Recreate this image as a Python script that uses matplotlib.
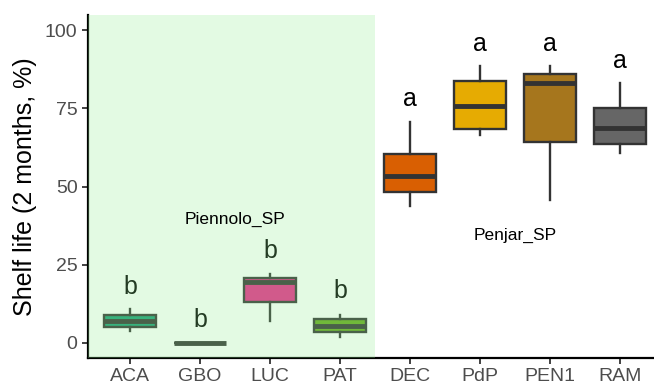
import matplotlib
matplotlib.use("Agg")
import matplotlib.pyplot as plt
from matplotlib.patches import Rectangle

plt.rcParams["font.family"] = ["Liberation Sans", "DejaVu Sans"]

cultivars = ["ACA", "GBO", "LUC", "PAT", "DEC", "PdP", "PEN1", "RAM"]
colors = ["#1B9E77", "#7570B3", "#E7298A", "#66A61E",
          "#D95F02", "#E6AB02", "#A6761D", "#666666"]
whisk_lo = [3.9, 0.0, 7.0, 1.9, 43.9, 66.5, 45.7, 60.8]
q1 = [5.0, 0.0, 13.0, 3.5, 48.2, 68.5, 64.2, 63.7]
medians = [7.0, 0.0, 19.4, 5.5, 53.4, 75.7, 83.1, 68.6]
q3 = [8.9, 0.0, 20.9, 7.6, 60.3, 83.8, 85.9, 75.0]
whisk_hi = [10.9, 0.0, 21.9, 9.0, 70.5, 88.6, 88.6, 83.1]
letters = ["b", "b", "b", "b", "a", "a", "a", "a"]
letter_y = [18.0, 7.3, 29.5, 16.6, 77.9, 95.7, 95.7, 90.2]
groups = ["Piennolo_SP", "Penjar_SP"]
group_x = [2.5, 6.5]
group_y = [39.6, 34.5]

fig = plt.figure(figsize=(6.54, 3.87), dpi=100)
ax = fig.add_axes([0.1346, 0.0749, 0.8654, 0.886])

stats = []
for i in range(len(cultivars)):
    stats.append({"whislo": whisk_lo[i], "q1": q1[i], "med": medians[i],
                  "q3": q3[i], "whishi": whisk_hi[i], "fliers": [],
                  "label": cultivars[i]})

pos = list(range(1, len(cultivars) + 1))
bp = ax.bxp(stats, positions=pos, widths=0.75, patch_artist=True,
            showcaps=False, showfliers=False,
            boxprops=dict(edgecolor="#333333", linewidth=1.7),
            whiskerprops=dict(color="#333333", linewidth=1.7),
            medianprops=dict(color="#333333", linewidth=3.5,
                             solid_capstyle="butt"))
for box, c in zip(bp["boxes"], colors):
    box.set_facecolor(c)

for x, s, y in zip(pos, letters, letter_y):
    ax.text(x, y, s, ha="center", va="center", fontsize=18, color="black")

# light green band over the Piennolo group
ax.add_patch(Rectangle((0.4, -4.8), 4.1, 109.6, facecolor="#90EE90",
                       alpha=0.25, edgecolor="none", zorder=5))

for x, y, s in zip(group_x, group_y, groups):
    ax.text(x, y, s, ha="center", va="center", fontsize=12.5, color="black",
            zorder=6)

ax.set_xlim(0.4, 8.486)
ax.set_ylim(-4.8, 104.8)
ax.set_yticks([0, 25, 50, 75, 100])
ax.set_xticks(pos)
ax.set_xticklabels(cultivars)
ax.tick_params(labelsize=14, labelcolor="#4D4D4D", length=4, width=1.3,
               color="#333333")
ax.set_ylabel("Shelf life (2 months, %)", fontsize=18, labelpad=6)
for side in ["top", "right"]:
    ax.spines[side].set_visible(False)
for side in ["left", "bottom"]:
    ax.spines[side].set_linewidth(1.6)

fig.savefig("out.png", dpi=100)
